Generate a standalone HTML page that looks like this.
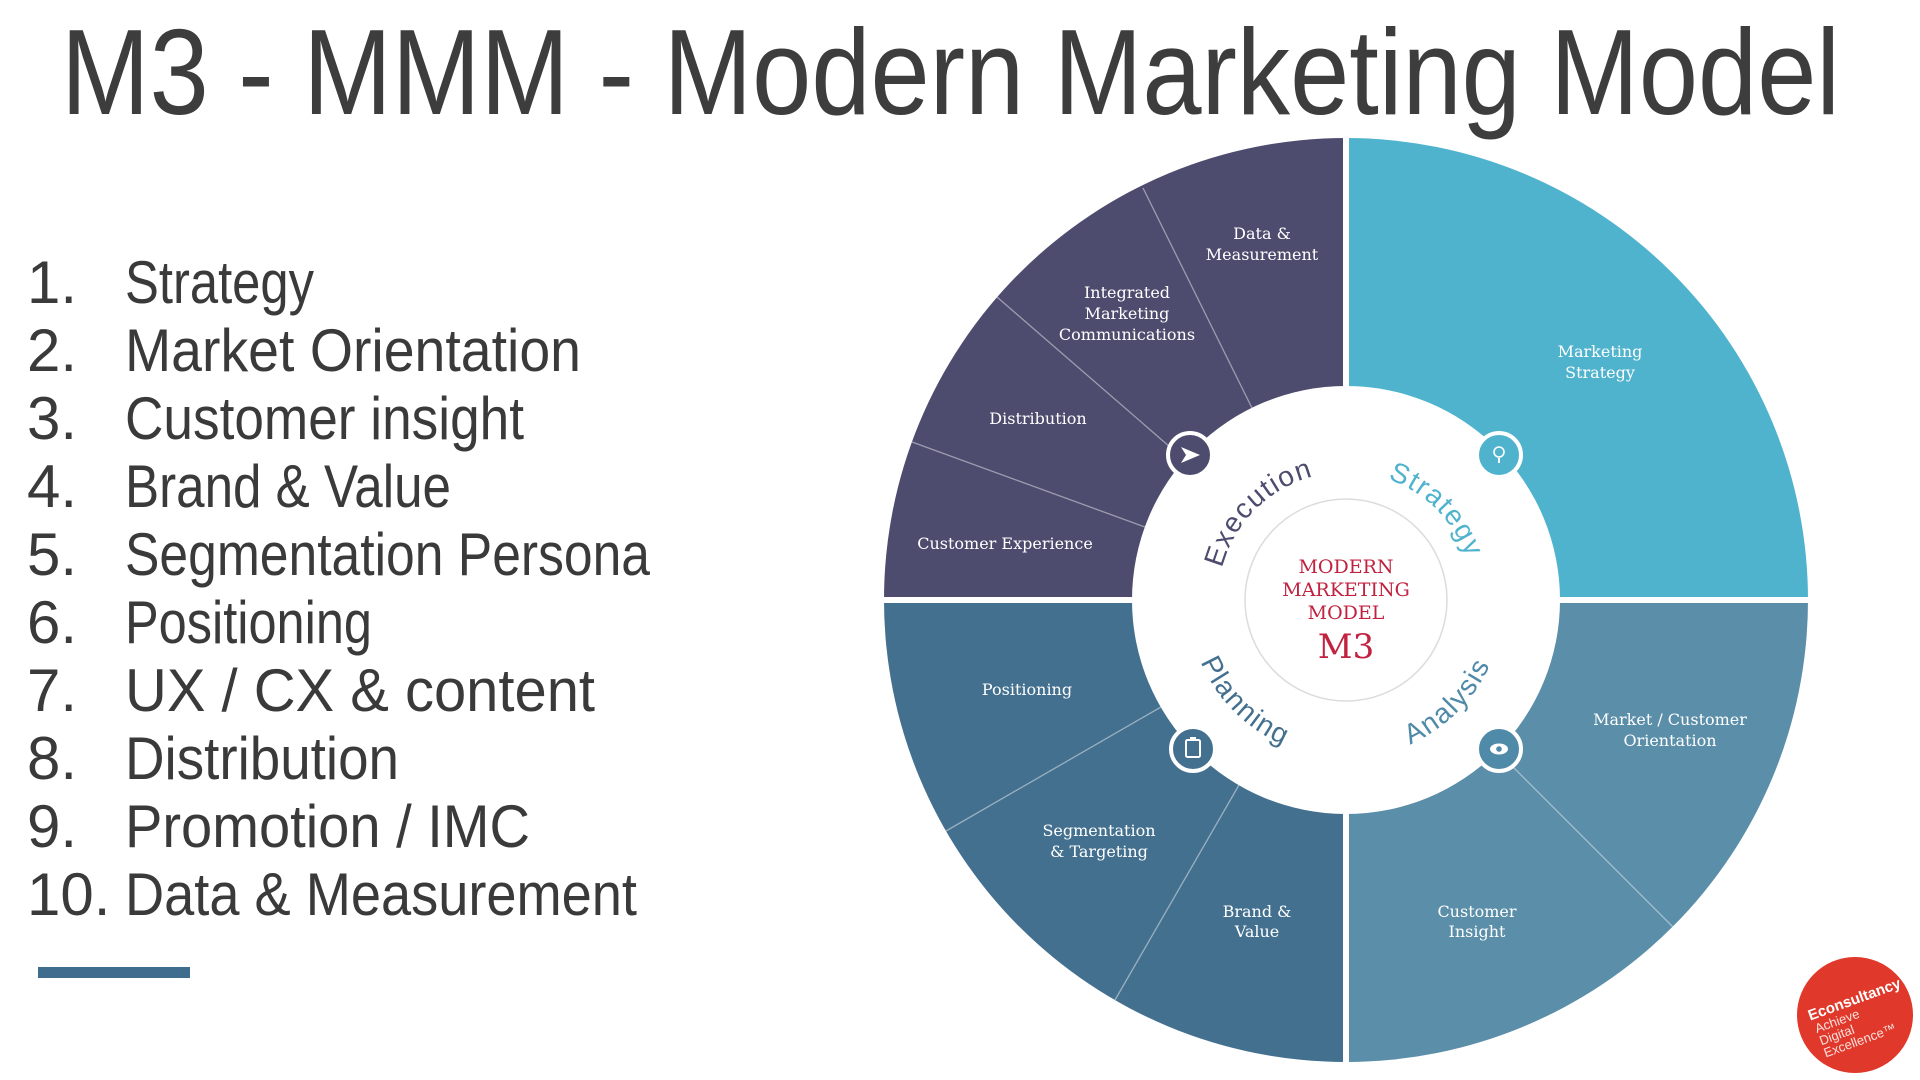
<!DOCTYPE html>
<html><head><meta charset="utf-8"><style>
html,body{margin:0;padding:0;background:#fff;width:1920px;height:1080px;overflow:hidden}
svg{display:block}
.s{font-family:"DejaVu Serif","Liberation Serif",serif;font-size:16px;fill:#fff;text-anchor:middle}
.l{font-family:"Liberation Sans",sans-serif;font-size:60px;fill:#3a3a3a}
</style></head><body>
<svg width="1920" height="1080" viewBox="0 0 1920 1080" xmlns="http://www.w3.org/2000/svg">
<text x="61" y="114" font-family="Liberation Sans, sans-serif" font-size="122" fill="#3d3d3d" textLength="1779" lengthAdjust="spacingAndGlyphs">M3 - MMM - Modern Marketing Model</text>

<g class="l">
<text x="27" y="303">1.</text><text x="125" y="303" textLength="189" lengthAdjust="spacingAndGlyphs">Strategy</text>
<text x="27" y="371">2.</text><text x="125" y="371" textLength="456" lengthAdjust="spacingAndGlyphs">Market Orientation</text>
<text x="27" y="439">3.</text><text x="125" y="439" textLength="399" lengthAdjust="spacingAndGlyphs">Customer insight</text>
<text x="27" y="507">4.</text><text x="125" y="507" textLength="326" lengthAdjust="spacingAndGlyphs">Brand &amp; Value</text>
<text x="27" y="575">5.</text><text x="125" y="575" textLength="525" lengthAdjust="spacingAndGlyphs">Segmentation Persona</text>
<text x="27" y="643">6.</text><text x="125" y="643" textLength="247" lengthAdjust="spacingAndGlyphs">Positioning</text>
<text x="27" y="711">7.</text><text x="125" y="711" textLength="470" lengthAdjust="spacingAndGlyphs">UX / CX &amp; content</text>
<text x="27" y="779">8.</text><text x="125" y="779" textLength="274" lengthAdjust="spacingAndGlyphs">Distribution</text>
<text x="27" y="847">9.</text><text x="125" y="847" textLength="405" lengthAdjust="spacingAndGlyphs">Promotion / IMC</text>
<text x="27" y="915">10.</text><text x="125" y="915" textLength="512" lengthAdjust="spacingAndGlyphs">Data &amp; Measurement</text>
</g>
<rect x="38" y="967" width="152" height="11" fill="#3e6d8e"/>

<g transform="translate(1346,600)">
<path d="M0,0 L-462,0 A462,462 0 0 1 0,-462 Z" fill="#4d4c6e"/>
<path d="M0,0 L0,-462 A462,462 0 0 1 462,0 Z" fill="#50b3cd"/>
<path d="M0,0 L-462,0 A462,462 0 0 0 0,462 Z" fill="#44708f"/>
<path d="M0,0 L0,462 A462,462 0 0 0 462,0 Z" fill="#5b8ea9"/>
<g stroke="#ffffff" stroke-opacity="0.45" stroke-width="1.3">
<line x1="-203" y1="-412" x2="-94" y2="-192"/>
<line x1="-349" y1="-303" x2="-161" y2="-140"/>
<line x1="-434" y1="-158" x2="-201" y2="-73"/>
<line x1="-400" y1="231" x2="-185" y2="107"/>
<line x1="-231" y1="400" x2="-107" y2="185"/>
<line x1="327" y1="327" x2="151" y2="151"/>
</g>
<line x1="0" y1="-470" x2="0" y2="470" stroke="#fff" stroke-width="6"/>
<line x1="-470" y1="0" x2="470" y2="0" stroke="#fff" stroke-width="6"/>
<circle r="214" fill="#fff"/>
<circle r="101" fill="none" stroke="#dcdcdc" stroke-width="1.5"/>
<defs>
<path id="top" d="M-128,0 A128,128 0 0 1 128,0"/>
<path id="bot" d="M-158,0 A158,158 0 0 0 158,0"/>
</defs>
<g font-family="Liberation Sans, sans-serif" font-size="28" letter-spacing="1.5">
<text fill="#4d4c6e"><textPath href="#top" startOffset="25%" text-anchor="middle">Execution</textPath></text>
<text fill="#50b3cd"><textPath href="#top" startOffset="75%" text-anchor="middle">Strategy</textPath></text>
<text fill="#44708f"><textPath href="#bot" startOffset="25%" text-anchor="middle">Planning</textPath></text>
<text fill="#4f8aa8"><textPath href="#bot" startOffset="75%" text-anchor="middle">Analysis</textPath></text>
</g>
<g font-family="DejaVu Serif, serif" fill="#c0223f" text-anchor="middle">
<text y="-27" font-size="19">MODERN</text>
<text y="-4" font-size="19">MARKETING</text>
<text y="19" font-size="19">MODEL</text>
<text y="58" font-size="34">M3</text>
</g>
<g stroke="#fff" stroke-width="4">
<circle cx="-156" cy="-145" r="22" fill="#4d4c6e"/>
<circle cx="153" cy="-145" r="22" fill="#50b3cd"/>
<circle cx="-153" cy="149" r="22" fill="#44708f"/>
<circle cx="153" cy="149" r="22" fill="#4f8aa8"/>
</g>
<path d="M-165,-153 L-146,-145 L-165,-137 L-160,-145 Z" fill="#fff"/>
<circle cx="153" cy="-148" r="5" fill="none" stroke="#fff" stroke-width="1.6"/>
<line x1="153" y1="-142" x2="153" y2="-137" stroke="#fff" stroke-width="2"/>
<rect x="-160" y="140" width="14" height="17" rx="1.5" fill="none" stroke="#fff" stroke-width="2"/>
<rect x="-156" y="137" width="6" height="4" fill="#fff"/>
<ellipse cx="153" cy="149" rx="9" ry="5.5" fill="#fff"/>
<circle cx="153" cy="149" r="2.8" fill="#4f8aa8"/>
</g>

<g class="s">
<text x="1262" y="239">Data &amp;</text><text x="1262" y="260">Measurement</text>
<text x="1127" y="298">Integrated</text><text x="1127" y="319">Marketing</text><text x="1127" y="340">Communications</text>
<text x="1038" y="424">Distribution</text>
<text x="1005" y="549">Customer Experience</text>
<text x="1600" y="357">Marketing</text><text x="1600" y="378">Strategy</text>
<text x="1027" y="695">Positioning</text>
<text x="1099" y="836">Segmentation</text><text x="1099" y="857">&amp; Targeting</text>
<text x="1257" y="917">Brand &amp;</text><text x="1257" y="937">Value</text>
<text x="1477" y="917">Customer</text><text x="1477" y="937">Insight</text>
<text x="1670" y="725">Market / Customer</text><text x="1670" y="746">Orientation</text>
</g>

<circle cx="1855" cy="1015" r="58" fill="#e0392b"/>
<g transform="translate(1855,1015) rotate(-20)" font-family="Liberation Sans, sans-serif" fill="#fff">
<text x="-44" y="-10" font-size="15" font-weight="bold">Econsultancy</text>
<text x="-42" y="4" font-size="13" fill-opacity="0.85">Achieve</text>
<text x="-42" y="17" font-size="13" fill-opacity="0.85">Digital</text>
<text x="-42" y="30" font-size="13" fill-opacity="0.85">Excellence™</text>
</g>
</svg>
</body></html>
